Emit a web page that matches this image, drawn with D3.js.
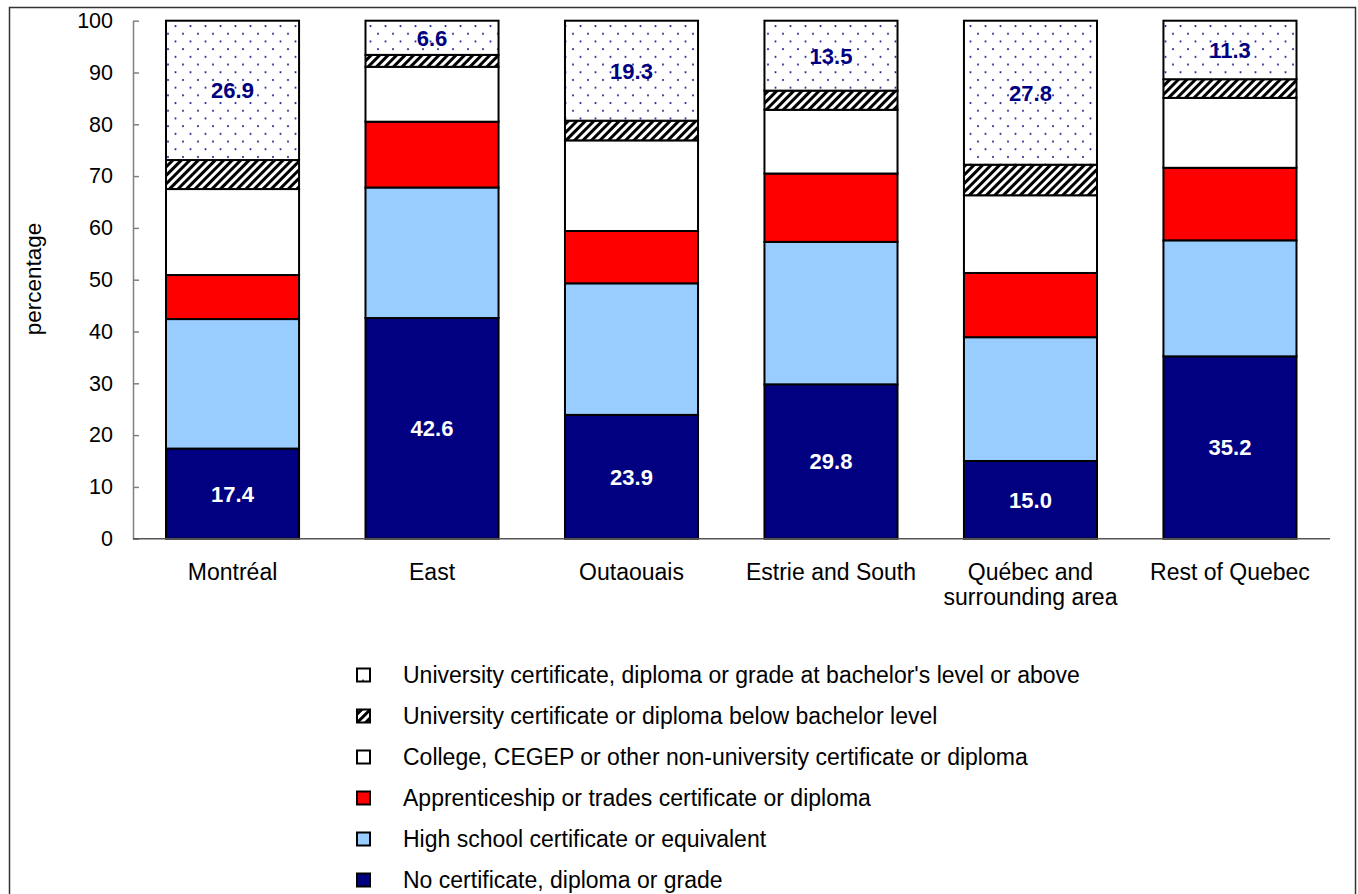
<!DOCTYPE html>
<html>
<head>
<meta charset="utf-8">
<script src="https://cdn.jsdelivr.net/npm/d3@7"></script>
<style>
  body { margin: 0; background: #fff; }
  text { font-family: "Liberation Sans", Arial, sans-serif; }
</style>
</head>
<body>
<div class="chart"></div>
<script>
const width = 1358;
const height = 894;

// data (percent)
const regions = ["Montréal", "East", "Outaouais", "Estrie and South", "Québec and surrounding area", "Rest of Quebec"];
const regionLines = [["Montréal"], ["East"], ["Outaouais"], ["Estrie and South"], ["Québec and", "surrounding area"], ["Rest of Quebec"]];
const noCert = [17.4, 42.6, 23.9, 29.8, 15.0, 35.2];
const highSchool = [25.0, 25.2, 25.4, 27.5, 23.9, 22.4];
const apprentice = [8.5, 12.7, 10.1, 13.2, 12.4, 14.0];
const college = [16.6, 10.6, 17.5, 12.3, 15.0, 13.5];
const univBelow = [5.6, 2.3, 3.8, 3.7, 5.9, 3.6];
const bachelor = [26.9, 6.6, 19.3, 13.5, 27.8, 11.3];
const yTicks = [0, 10, 20, 30, 40, 50, 60, 70, 80, 90, 100];

const seriesNames = [
    "No certificate, diploma or grade",
    "High school certificate or equivalent",
    "Apprenticeship or trades certificate or diploma",
    "College, CEGEP or other non-university certificate or diploma",
    "University certificate or diploma below bachelor level",
    "University certificate, diploma or grade at bachelor's level or above"
];
const seriesValues = [noCert, highSchool, apprentice, college, univBelow, bachelor];
const fills = ["#000080", "#99ccff", "#ff0000", "#ffffff", "url(#hatch)", "url(#dots)"];

const svg = d3.select(".chart").append("svg").attr("width", width).attr("height", height);

const defs = svg.append("defs");
const hatch = defs.append("pattern").attr("id", "hatch").attr("patternUnits", "userSpaceOnUse")
    .attr("width", 6).attr("height", 6).attr("patternTransform", "rotate(45)");
hatch.append("rect").attr("width", 6).attr("height", 6).attr("fill", "#fff");
hatch.append("rect").attr("width", 3).attr("height", 6).attr("fill", "#000");

const dots = defs.append("pattern").attr("id", "dots").attr("patternUnits", "userSpaceOnUse")
    .attr("width", 15).attr("height", 15.4);
dots.append("rect").attr("width", 15).attr("height", 15.4).attr("fill", "#fff");
dots.append("circle").attr("cx", 3).attr("cy", 3).attr("r", 1.1).attr("fill", "#2a2a9a");
dots.append("circle").attr("cx", 10.5).attr("cy", 10.7).attr("r", 1.1).attr("fill", "#2a2a9a");

// outer frame
svg.append("rect").attr("x", 9.5).attr("y", 7.5).attr("width", 1346).attr("height", 900)
    .attr("fill", "none").attr("stroke", "#333").attr("stroke-width", 1.5);

const x = d3.scaleBand().domain(regions).range([132.75, 1329.75]).paddingInner(0.333).paddingOuter(0.1667);
const y = d3.scaleLinear().domain([0, 100]).range([538.7, 20.7]);

// stack table
const table = regions.map((r, i) => {
    const row = { region: r };
    seriesNames.forEach((s, j) => row[s] = seriesValues[j][i]);
    return row;
});
const stacked = d3.stack().keys(seriesNames)(table);

const g = svg.append("g");
stacked.forEach((layer, j) => {
    g.selectAll(".s" + j).data(layer).enter().append("rect")
        .attr("x", d => x(d.data.region))
        .attr("y", d => y(d[1]))
        .attr("width", x.bandwidth())
        .attr("height", d => y(d[0]) - y(d[1]))
        .attr("fill", fills[j])
        .attr("stroke", "#000")
        .attr("stroke-width", 2);
});

// value labels: bottom (white) and top (navy)
[[0, "#fff"], [5, "#000080"]].forEach(([j, col]) => {
    g.selectAll(".lab" + j).data(stacked[j]).enter().append("text")
        .attr("x", d => x(d.data.region) + x.bandwidth() / 2)
        .attr("y", d => y((d[0] + d[1]) / 2))
        .attr("dy", "0.36em")
        .attr("text-anchor", "middle")
        .attr("font-size", 22)
        .attr("font-weight", "bold")
        .attr("fill", col)
        .text(d => (d[1] - d[0]).toFixed(1));
});

// y axis
const yAxis = svg.append("g").attr("transform", "translate(133,0)")
    .call(d3.axisLeft(y).tickValues(yTicks).tickSizeInner(-6).tickSizeOuter(0).tickPadding(20));
yAxis.select(".domain").attr("stroke", "#808080").attr("stroke-width", 1.5);
yAxis.selectAll(".tick line").attr("stroke", "#808080").attr("stroke-width", 1.5);
yAxis.selectAll(".tick text").attr("font-size", 21.5).attr("fill", "#000").attr("font-family", "Liberation Sans, Arial, sans-serif");

// x axis
const xAxis = svg.append("g").attr("transform", "translate(0," + y(0) + ")")
    .call(d3.axisBottom(x).tickSize(0).tickPadding(0));
xAxis.select(".domain").attr("d", "M133,0H1330").attr("stroke", "#555").attr("stroke-width", 1.5);
xAxis.selectAll(".tick text").remove();
xAxis.selectAll(".tick").each(function (d, i) {
    const t = d3.select(this).append("text")
        .attr("text-anchor", "middle").attr("font-size", 23).attr("fill", "#000")
        .attr("font-family", "Liberation Sans, Arial, sans-serif");
    regionLines[i].forEach((line, k) => {
        t.append("tspan").attr("x", 0).attr("y", 41 + k * 25).text(line);
    });
});

svg.append("text").attr("transform", "translate(41,279) rotate(-90)")
    .attr("text-anchor", "middle").attr("font-size", 22.5).text("percentage");

// legend, top of stack first
const legend = svg.append("g");
const order = d3.range(seriesNames.length).reverse();
order.forEach((j, k) => {
    const cy = 675 + k * 41;
    legend.append("rect").attr("x", 357).attr("y", cy - 6.5).attr("width", 13).attr("height", 13)
        .attr("fill", fills[j]).attr("stroke", "#000").attr("stroke-width", 2);
    legend.append("text").attr("x", 403).attr("y", cy).attr("dy", "0.36em")
        .attr("font-size", 23).text(seriesNames[j]);
});
</script>
</body>
</html>
